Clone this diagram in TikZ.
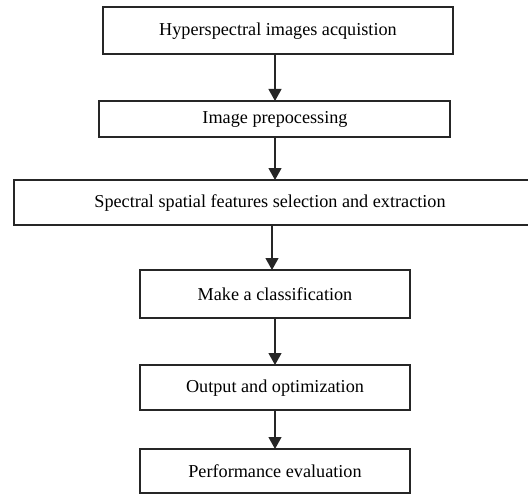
\documentclass[tikz,border=0pt]{standalone}
\usepackage{fontspec}
\setmainfont{Liberation Serif}
\usetikzlibrary{arrows.meta}
\begin{document}
\begin{tikzpicture}[x=1pt,y=-1pt,
  stepbox/.style={draw=black!85,line width=1.4pt,fill=white},
  flow/.style={draw=black!85,line width=1.2pt,-{Triangle[width=13pt,length=12pt]}},
  lbl/.style={font=\fontsize{18.2}{21}\selectfont}]
\useasboundingbox (0,0) rectangle (528,495);
\draw[stepbox] (103,7) rectangle (453,54);
\node[lbl] (t1) at (278,31) {Hyperspectral images acquistion};
\draw[stepbox] (99,101) rectangle (450,137);
\node[lbl] (t2) at (275,119) {Image prepocessing};
\draw[stepbox] (14,180) rectangle (532,225);
\node[lbl] (t3) at (270,203) {Spectral spatial features selection and extraction};
\draw[stepbox] (140,270) rectangle (410,318);
\node[lbl] (t4) at (275,294) {Make a classification};
\draw[stepbox] (140,365) rectangle (410,410);
\node[lbl] (t5) at (275,388) {Output and optimization};
\draw[stepbox] (140,449) rectangle (410,493);
\node[lbl] (t6) at (275,471) {Performance evaluation};
\coordinate (a1) at (275,54); \coordinate (b1) at (275,101);
\coordinate (a2) at (275,137); \coordinate (b2) at (275,180);
\coordinate (a3) at (272,225); \coordinate (b3) at (272,270);
\coordinate (a4) at (275,318); \coordinate (b4) at (275,365);
\coordinate (a5) at (275,410); \coordinate (b5) at (275,449);
\draw[flow] (a1) -- (b1);
\draw[flow] (a2) -- (b2);
\draw[flow] (a3) -- (b3);
\draw[flow] (a4) -- (b4);
\draw[flow] (a5) -- (b5);
\end{tikzpicture}
\end{document}
